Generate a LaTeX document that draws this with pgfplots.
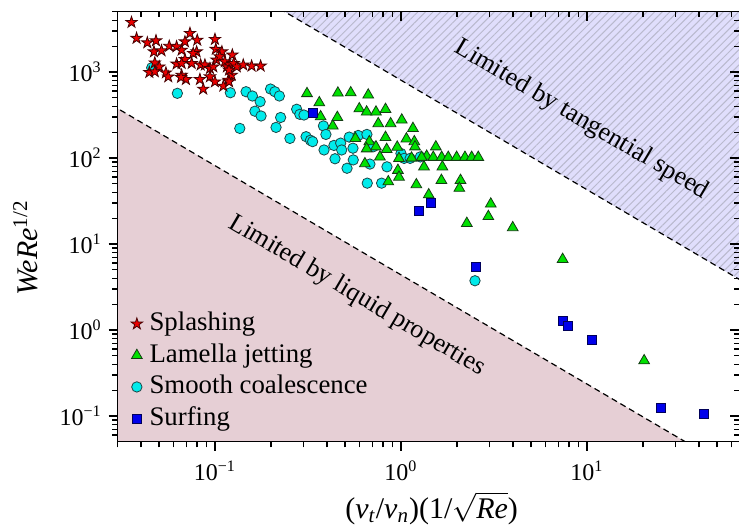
\documentclass[border=0pt]{standalone}
\usepackage{fontspec}
\setmainfont{Liberation Serif}
\usepackage{pgfplots}
\pgfplotsset{compat=1.18}
\usetikzlibrary{patterns.meta}

\pgfdeclareplotmark{fstar}{%
  \pgfpathmoveto{\pgfpointpolar{90}{\pgfplotmarksize}}%
  \pgfpathlineto{\pgfpointpolar{126}{0.382\pgfplotmarksize}}%
  \pgfpathlineto{\pgfpointpolar{162}{\pgfplotmarksize}}%
  \pgfpathlineto{\pgfpointpolar{198}{0.382\pgfplotmarksize}}%
  \pgfpathlineto{\pgfpointpolar{234}{\pgfplotmarksize}}%
  \pgfpathlineto{\pgfpointpolar{270}{0.382\pgfplotmarksize}}%
  \pgfpathlineto{\pgfpointpolar{306}{\pgfplotmarksize}}%
  \pgfpathlineto{\pgfpointpolar{342}{0.382\pgfplotmarksize}}%
  \pgfpathlineto{\pgfpointpolar{18}{\pgfplotmarksize}}%
  \pgfpathlineto{\pgfpointpolar{54}{0.382\pgfplotmarksize}}%
  \pgfpathclose\pgfusepathqfillstroke}

\definecolor{pinkc}{RGB}{230,207,213}
\definecolor{lavc}{RGB}{224,222,252}
\definecolor{hatchc}{RGB}{185,185,205}
\definecolor{starf}{RGB}{235,0,0}
\definecolor{stare}{RGB}{70,0,0}
\definecolor{trif}{RGB}{0,225,0}
\definecolor{trie}{RGB}{20,60,20}
\definecolor{circf}{RGB}{0,235,235}
\definecolor{circe}{RGB}{30,70,70}
\definecolor{sqf}{RGB}{0,0,235}
\definecolor{sqe}{RGB}{0,0,90}

\tikzset{
  mysplash/.style={mark=fstar, mark size=3pt, mark options={fill=starf, draw=stare, line width=0.4pt}},
  mylamella/.style={mark=triangle*, mark size=3.1pt, mark options={fill=trif, draw=trie, line width=0.4pt}},
  mysmooth/.style={mark=*, mark size=2.6pt, mark options={fill=circf, draw=circe, line width=0.4pt}},
  mysurf/.style={mark=square*, mark size=2.25pt, mark options={fill=sqf, draw=sqe, line width=0.4pt}},
}

\begin{document}
\begin{tikzpicture}
\begin{axis}[at={(0,0)}, anchor=south west, scale only axis,
    width=310.85pt, height=215pt, xmode=log, ymode=log,
    xmin=0.03, xmax=66, ymin=0.05, ymax=5000,
    xtick={0.1,1,10}, ytick={0.1,1,10,100,1000},
    minor xtick={0.03,0.04,0.05,0.06,0.07,0.08,0.09,0.2,0.3,0.4,0.5,0.6,0.7,0.8,0.9,2,3,4,5,6,7,8,9,20,30,40,50,60},
    minor ytick={0.06,0.07,0.08,0.09,0.2,0.3,0.4,0.5,0.6,0.7,0.8,0.9,2,3,4,5,6,7,8,9,20,30,40,50,60,70,80,90,200,300,400,500,600,700,800,900,2000,3000,4000,5000},
    major tick length=4.5pt, minor tick length=2.8pt,
    tick style={black, line width=0.6pt},
    axis line style={line width=0.6pt},
  xtick pos=left, ytick pos=left, tick align=outside,
  xticklabels={10\textsuperscript{−1},10\textsuperscript{0},10\textsuperscript{1}},
  yticklabels={10\textsuperscript{−1},10\textsuperscript{0},10\textsuperscript{1},10\textsuperscript{2},10\textsuperscript{3}},
  tick label style={font=\fontsize{12}{14}\selectfont},
  xticklabel style={yshift=-1.5pt},
  xlabel={(\textit{v}\textsubscript{\textit{t}}/\textit{v}\textsubscript{\textit{n}})(1/$\sqrt{\mbox{\textit{Re}}}$)},
  ylabel={\textit{WeRe}\textsuperscript{1/2}},
  label style={font=\fontsize{15}{18}\selectfont},
  xlabel style={at={(axis description cs:0.505,-0.154)}, anchor=center},
  ylabel style={at={(axis description cs:-0.148,0.451)}, anchor=center},
  legend style={at={(0.021,0.017)}, anchor=south west, draw=none, fill=none,
    font=\fontsize{13.4}{15}\selectfont, row sep=0pt, inner sep=0pt, column sep=2pt,
    nodes={inner sep=1.5pt, text depth=3pt, text height=9.75pt}},
  legend cell align=left,
]
% regions
\addplot[fill=pinkc, draw=none, forget plot] coordinates {(0.025,474) (40.4,0.04) (0.025,0.04) (0.025,474)};
\addplot[fill=lavc, draw=none, forget plot] coordinates {(0.2,6240) (80,3.03) (80,6240) (0.2,6240)};
\addplot[draw=none, pattern={Lines[angle=45,distance=2.7pt,line width=0.5pt]}, pattern color=hatchc, forget plot] coordinates {(0.2,6240) (80,3.03) (80,6240) (0.2,6240)};
\addplot[black, line width=0.6pt, dash pattern=on 3pt off 2pt, forget plot] coordinates {(0.025,474) (40.4,0.04)};
\addplot[black, line width=0.6pt, dash pattern=on 3pt off 2pt, forget plot] coordinates {(0.2,6240) (80,3.03)};

\node[rotate=-30.5, font=\fontsize{13}{15}\selectfont] at (axis cs:9.35,276) {Limited by tangential speed};
\node[rotate=-30.5, font=\fontsize{13}{15}\selectfont] at (axis cs:0.58,2.48) {Limited by liquid properties};

% Smooth coalescence
\addplot[only marks, mysmooth, forget plot] table {
0.0457 1120
0.0628 565
0.121 574
0.147 590
0.159 526
0.175 452
0.199 634
0.21 590
0.222 526
0.164 350
0.177 308
0.136 221
0.2255 296
0.213 227
0.253 169
0.275 369
0.286 322
0.301 316
0.309 177
0.326 161
0.335 155
0.383 236
0.395 188
0.386 124
0.436 140
0.474 149
0.48 124
0.527 175
0.552 130
0.442 98
0.513 76
0.554 95
0.589 183
0.656 188
0.681 85
0.841 79
0.659 51
0.787 51
1.0 113
1.04 99
1.12 99
1.27 103
0.71 135
2.5 3.74
};
% Lamella jetting
\addplot[only marks, mylamella, forget plot] table {
0.3125 562
0.364 440
0.37 302
0.43 236
0.458 570
0.537 574
0.667 541
0.455 297
0.597 374
0.654 343
0.734 343
0.826 368
0.755 251
0.88 251
1.01 277
1.16 221
0.569 169
0.676 155
0.826 174
1.07 167
1.18 155
1.19 135
0.654 128
0.734 135
0.838 126
0.955 134
0.771 103
0.976 99
1.14 100
1.375 105
1.54 135
1.292 102
1.492 102
1.655 102
1.796 102
1.992 102
2.208 102
2.40 102
2.604 102
0.64 86
1.33 79
1.67 79
0.963 72
0.976 60
0.855 53
1.21 49
1.65 55
2.09 55
2.06 44.5
1.41 37.4
3.04 29.2
2.95 20.9
2.26 17.4
3.99 15.5
7.4 6.64
20.3 0.44
};
% Splashing
\addplot[only marks, mysplash, forget plot] table {
0.0356 3780
0.0379 2470
0.0433 2190
0.0482 2310
0.047 1720
0.0516 1770
0.0568 2000
0.0622 1970
0.0662 1800
0.0734 2820
0.069 2250
0.0803 2350
0.0797 1720
0.0764 1650
0.1 2400
0.101 1840
0.109 1720
0.124 1580
0.069 1400
0.0475 1280
0.0502 1150
0.0444 990
0.0475 1008
0.0545 980
0.0561 880
0.0622 1240
0.0662 1260
0.0662 920
0.0698 820
0.075 1260
0.0838 1210
0.0883 1210
0.094 1100
0.098 1150
0.102 1380
0.106 1510
0.113 1320
0.116 1150
0.12 1210
0.126 1260
0.131 1150
0.142 1210
0.1575 1175
0.176 1175
0.083 820
0.094 882
0.1 770
0.118 807
0.123 920
0.111 687
0.0865 634
0.0657 867
0.119 1055
0.119 771
};
% Surfing
\addplot[only marks, mysurf, forget plot] table {
0.338 338
1.45 30
1.25 24.2
2.53 5.36
7.46 1.28
7.87 1.12
10.6 0.766
25 0.123
42.7 0.107
};
\addlegendimage{only marks, mysplash}\addlegendentry{Splashing}
\addlegendimage{only marks, mylamella}\addlegendentry{Lamella jetting}
\addlegendimage{only marks, mysmooth}\addlegendentry{Smooth coalescence}
\addlegendimage{only marks, mysurf}\addlegendentry{Surfing}
\end{axis}
\begin{axis}[at={(0,0)}, anchor=south west, scale only axis,
    width=310.85pt, height=215pt, xmode=log, ymode=log,
    xmin=0.03, xmax=66, ymin=0.05, ymax=5000,
    xtick={0.1,1,10}, ytick={0.1,1,10,100,1000},
    minor xtick={0.03,0.04,0.05,0.06,0.07,0.08,0.09,0.2,0.3,0.4,0.5,0.6,0.7,0.8,0.9,2,3,4,5,6,7,8,9,20,30,40,50,60},
    minor ytick={0.06,0.07,0.08,0.09,0.2,0.3,0.4,0.5,0.6,0.7,0.8,0.9,2,3,4,5,6,7,8,9,20,30,40,50,60,70,80,90,200,300,400,500,600,700,800,900,2000,3000,4000,5000},
    major tick length=4.5pt, minor tick length=2.8pt,
    tick style={black, line width=0.6pt},
    axis line style={line width=0.6pt},
    xtick pos=right, ytick pos=right, tick align=inside,
    xticklabels={}, yticklabels={}]
\end{axis}
\pgfresetboundingbox
\path[use as bounding box] (-58.85pt,-43.55pt) rectangle (310.65pt,220.95pt);
\end{tikzpicture}
\end{document}
